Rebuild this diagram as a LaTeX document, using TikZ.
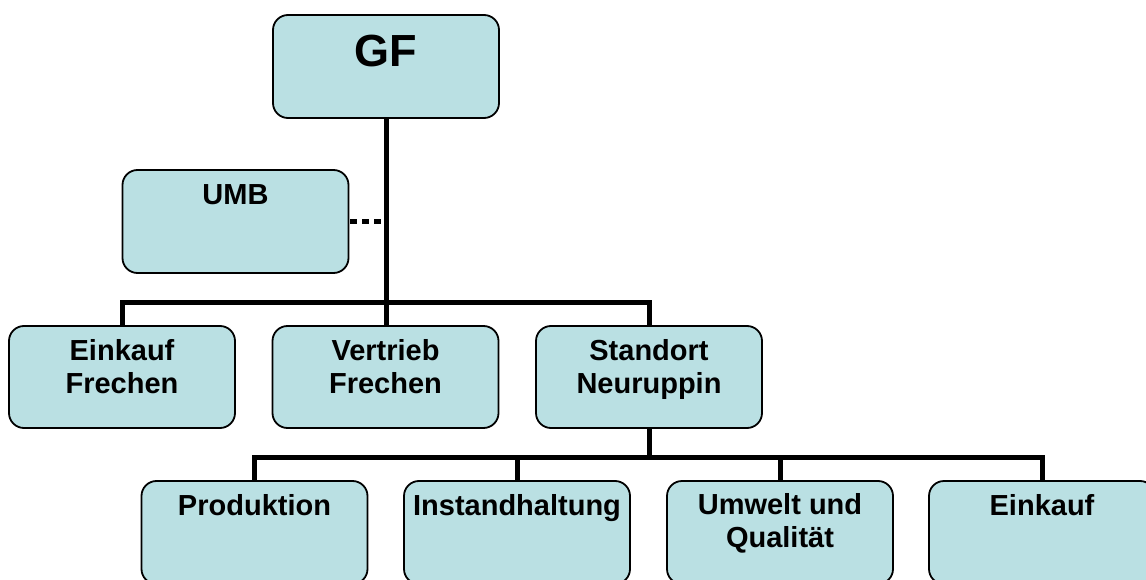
\documentclass[tikz,border=0pt]{standalone}
\usepackage{fontspec}
\setmainfont{Liberation Sans}
\usetikzlibrary{backgrounds}
\definecolor{boxfill}{RGB}{186,224,227}
\tikzset{
  orgbox/.style={draw=black, line width=1.8pt, fill=boxfill, rounded corners=15pt,
    minimum width=226pt, minimum height=103pt, inner sep=0pt},
  boxtext/.style={anchor=base, align=center, inner sep=0pt,
    font=\bfseries\fontsize{29}{33}\selectfont},
  bigtext/.style={anchor=base, align=center, inner sep=0pt,
    font=\bfseries\fontsize{45}{50}\selectfont},
  conn/.style={line width=5pt},
  dotconn/.style={line width=5pt, dash pattern=on 7pt off 5pt},
}
\begin{document}
\begin{tikzpicture}[x=1pt,y=1pt]
\useasboundingbox (0,0) rectangle (1146,-580);
\clip (0,0) rectangle (1146,-580);
% boxes
\node[orgbox] (gf) at (386,-66.5) {};
\node[orgbox] (umb) at (235.5,-221.5) {};
\node[orgbox, minimum height=102pt] (ef) at (122,-377) {};
\node[orgbox, minimum height=102pt] (vf) at (385.5,-377) {};
\node[orgbox, minimum height=102pt] (sn) at (649,-377) {};
\node[orgbox] (pr) at (254.5,-532.5) {};
\node[orgbox] (ih) at (517,-532.5) {};
\node[orgbox] (uq) at (780,-532.5) {};
\node[orgbox] (ek) at (1042,-532.5) {};
% texts (base anchor = baseline of the last line)
\node[bigtext] (tgf) at ([yshift=-52pt]gf.north) {GF};
\node[boxtext] (tumb) at ([yshift=-35pt]umb.north) {UMB};
\node[boxtext] (tef) at ([yshift=-68pt]ef.north) {Einkauf\\Frechen};
\node[boxtext] (tvf) at ([yshift=-68pt]vf.north) {Vertrieb\\Frechen};
\node[boxtext] (tsn) at ([yshift=-68pt]sn.north) {Standort\\Neuruppin};
\node[boxtext] (tpr) at ([yshift=-35pt]pr.north) {Produktion};
\node[boxtext] (tih) at ([yshift=-35pt]ih.north) {Instandhaltung};
\node[boxtext] (tuq) at ([yshift=-67pt]uq.north) {Umwelt und\\Qualität};
\node[boxtext] (tek) at ([yshift=-35pt]ek.north) {Einkauf};
% connectors
\coordinate (b1) at (386,-302);
\coordinate (b2) at (649,-457);
\begin{pgfonlayer}{background}
\draw[conn] (gf.south) -- (gf.south |- vf.north);
\draw[conn] (ef.north) |- (b1) -| (sn.north);
\draw[dotconn] ([xshift=1pt]umb.east) -- ([xshift=-3pt]umb.east -| gf.south);
\draw[conn] (sn.south) -- (b2);
\draw[conn] (pr.north) |- (b2) -| (ek.north);
\draw[conn] (ih.north) -- (ih.north |- b2);
\draw[conn] (uq.north) -- (uq.north |- b2);
\end{pgfonlayer}
\end{tikzpicture}
\end{document}
